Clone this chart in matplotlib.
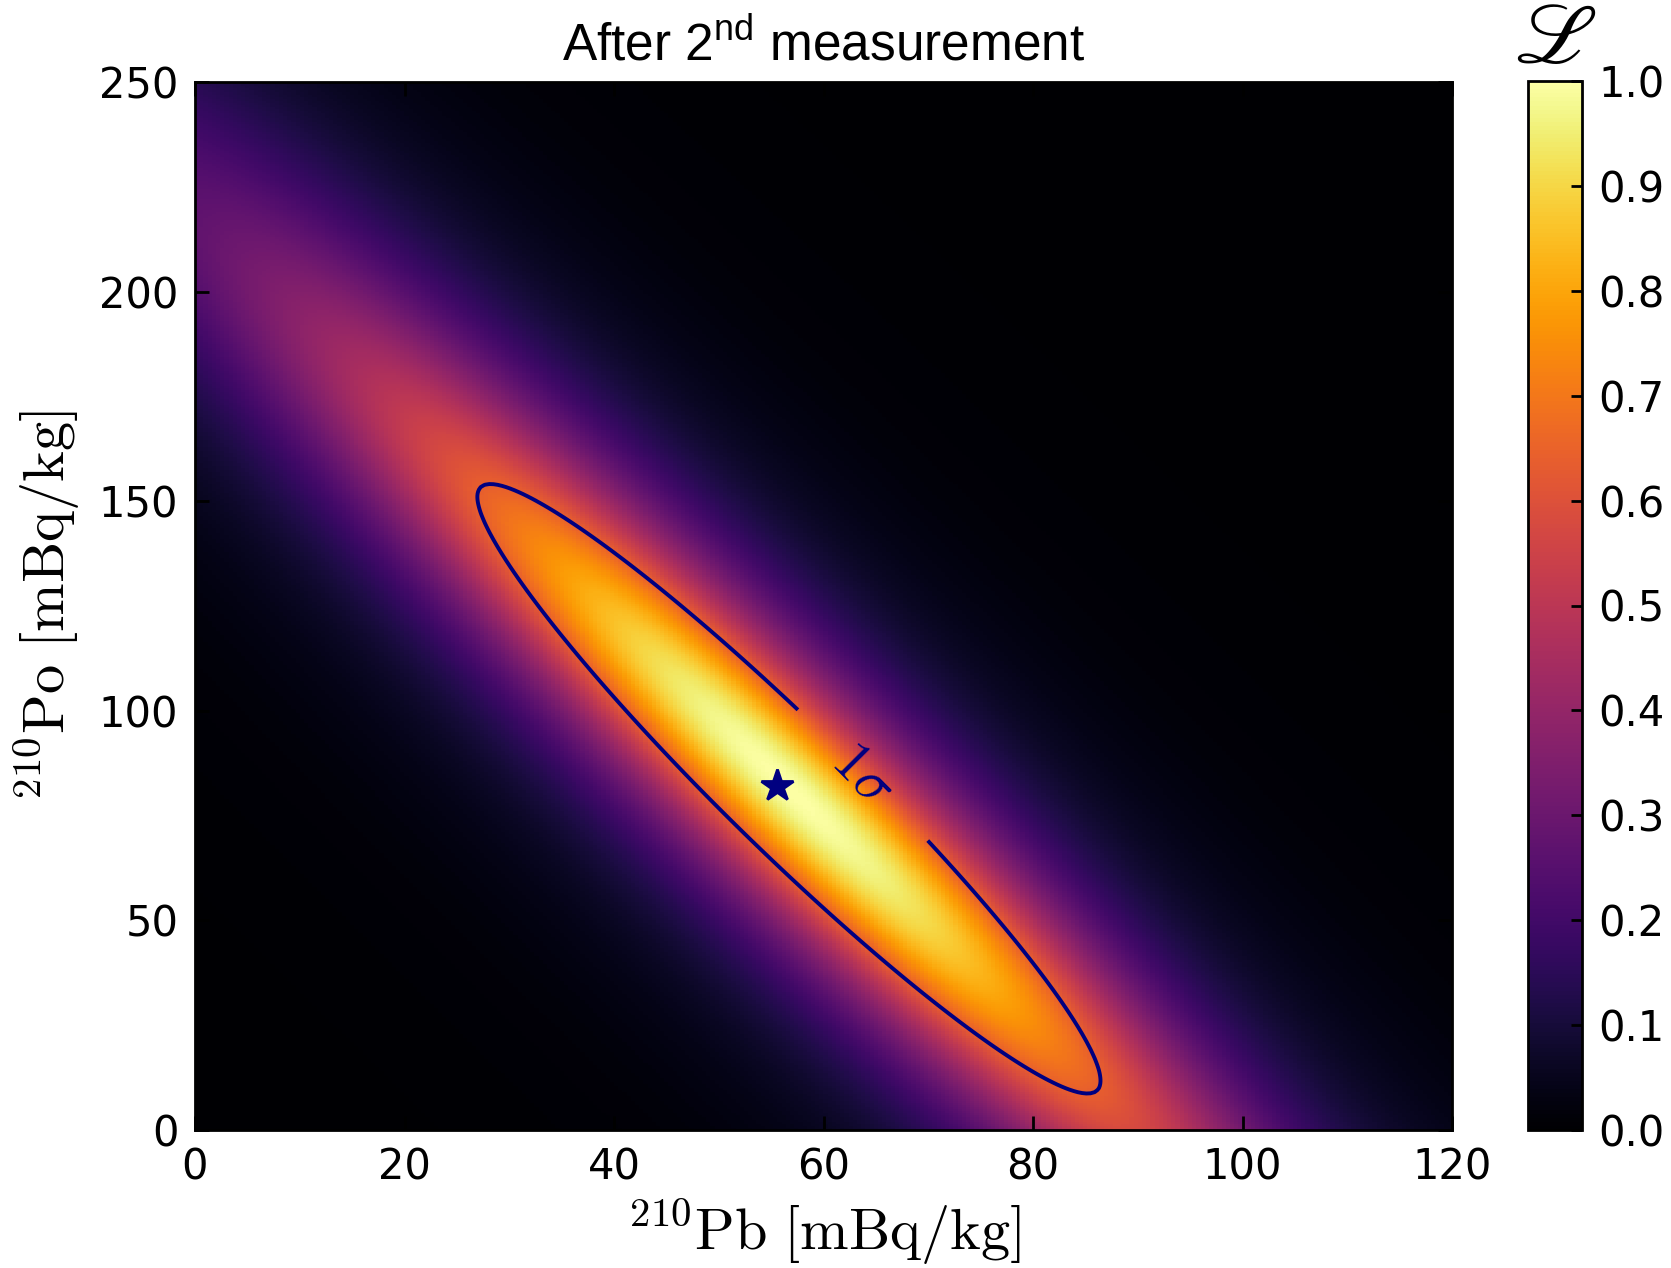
import numpy as np
import matplotlib.pyplot as plt
from matplotlib.ticker import FormatStrFormatter

plt.rcParams['mathtext.fontset'] = 'cm'
plt.rcParams['mathtext.rm'] = 'Liberation Sans'   # used only by the title (custom math font)
plt.rcParams['font.family'] = ['DejaVu Sans']

# ---- values ----
pb_lim = [0, 120]          # 210Pb axis [mBq/kg]
po_lim = [0, 250]          # 210Po axis [mBq/kg]
pb_ticks = [0, 20, 40, 60, 80, 100, 120]
po_ticks = [0, 50, 100, 150, 200, 250]
cbar_ticks = [0.0, 0.1, 0.2, 0.3, 0.4, 0.5, 0.6, 0.7, 0.8, 0.9, 1.0]

best_fit = [55.6, 82.0]    # star marker
center = [56.7, 81.4]      # centre of the 1 sigma ellipse
sigma = [29.75, 72.7]      # half extents of the 1 sigma ellipse (Pb, Po)
rho = -0.958               # correlation
nu = 4.0                   # tail weight of the likelihood (heavier than gaussian)
n_pb, n_po = 300, 500      # grid of the likelihood map

# likelihood surface
pb = np.linspace(pb_lim[0], pb_lim[1], n_pb)
po = np.linspace(po_lim[0], po_lim[1], n_po)
PB, PO = np.meshgrid(pb, po)
a = (PB - center[0]) / sigma[0]
b = (PO - center[1]) / sigma[1]
q = (a**2 - 2 * rho * a * b + b**2) / (1 - rho**2)
like = (1 + q / nu) ** (-nu / 2)
like = like / like.max()
level_1s = (1 + 1 / nu) ** (-nu / 2)

fig = plt.figure(figsize=(1671 / 200, 1268 / 200), dpi=200)
ax = fig.add_axes([195 / 1671, 138 / 1268, 1257 / 1671, 1048 / 1268])

im = ax.imshow(like, origin='lower', extent=pb_lim + po_lim, aspect='auto',
               cmap='inferno', vmin=0, vmax=1, interpolation='nearest')

cs = ax.contour(PB, PO, like, levels=[level_1s], colors='navy', linewidths=1.4)
ax.clabel(cs, fmt={level_1s: r'$1\sigma$'}, inline=True, fontsize=21,
          manual=[(63.5, 84)], inline_spacing=60)

ax.plot(best_fit[0], best_fit[1], marker='*', color='navy', ms=12, ls='none')

ax.set_xlim(pb_lim)
ax.set_ylim(po_lim)
ax.set_xticks(pb_ticks)
ax.set_yticks(po_ticks)
ax.tick_params(direction='in', top=True, right=True, length=5, width=1,
               labelsize=15, pad=6)
for s in ax.spines.values():
    s.set_linewidth(1.0)

ax.set_xlabel(r'$^{210}\mathrm{Pb}\ [\mathrm{mBq/kg}]$', fontsize=21, labelpad=3)
ax.set_ylabel(r'$^{210}\mathrm{Po}\ [\mathrm{mBq/kg}]$', fontsize=21, labelpad=6)
ax.set_title(r'After 2$^{\mathrm{nd}}$ measurement', fontsize=18.5,
             fontfamily='Liberation Sans', math_fontfamily='custom', pad=8)

cax = fig.add_axes([1528 / 1671, 138 / 1268, 54 / 1671, 1049 / 1268])
cb = fig.colorbar(im, cax=cax, ticks=cbar_ticks)
cb.ax.yaxis.set_major_formatter(FormatStrFormatter('%.1f'))
cb.ax.tick_params(direction='in', length=4, width=1, labelsize=15, pad=6)
cb.outline.set_linewidth(1.0)
cax.set_title(r'$\mathscr{L}$', fontsize=31, math_fontfamily='stix', pad=2)

fig.savefig('out.png', dpi=200)
